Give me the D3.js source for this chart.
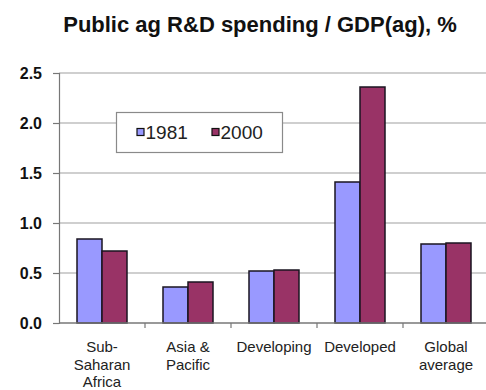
<!DOCTYPE html>
<html>
<head>
<meta charset="utf-8">
<script src="https://cdn.jsdelivr.net/npm/d3@7"></script>
<style>
  html, body { margin: 0; padding: 0; background: #fff; }
  svg { display: block; font-family: "Liberation Sans", Arial, sans-serif; }
</style>
</head>
<body>
<svg id="chart" width="486" height="390"></svg>
<script>
// Regions shown along the x axis (line breaks marked with \n)
const categories = ["Sub-\nSaharan\nAfrica", "Asia &\nPacific", "Developing", "Developed", "Global\naverage"];
// Series years
const years = ["1981", "2000"];
// Public agricultural R&D spending as % of agricultural GDP
const values1981 = [0.84, 0.36, 0.52, 1.41, 0.79];
const values2000 = [0.72, 0.41, 0.53, 2.36, 0.80];
// Y axis ticks
const yTicks = [0.0, 0.5, 1.0, 1.5, 2.0, 2.5];

const colors = { "1981": "#9999ff", "2000": "#993366" };

const svg = d3.select("#chart");
const margin = { left: 59, right: -3, top: 73, bottom: 67 };
const W = 486, H = 390;
const plotL = margin.left, plotR = W - margin.right;
const plotT = margin.top, plotB = H - margin.bottom;

const x0 = d3.scaleBand().domain(categories).range([plotL, plotR]).padding(0);
const x1 = d3.scaleBand().domain(years).range([0, x0.bandwidth()]).paddingInner(0).paddingOuter(0.72);
const y = d3.scaleLinear().domain([0, 2.5]).range([plotB, plotT]);

// Title
svg.append("text")
  .attr("x", 260).attr("y", 32)
  .attr("text-anchor", "middle")
  .attr("font-size", 22).attr("font-weight", "bold").attr("fill", "#111")
  .text("Public ag R&D spending / GDP(ag), %");

// Gridlines
svg.append("g").selectAll("line")
  .data(yTicks.filter(d => d > 0))
  .join("line")
  .attr("x1", plotL).attr("x2", plotR)
  .attr("y1", d => y(d)).attr("y2", d => y(d))
  .attr("stroke", "#a0a0a0").attr("stroke-width", 1.2);

// Y axis
const yAxis = svg.append("g")
  .attr("transform", `translate(${plotL},0)`)
  .call(d3.axisLeft(y).tickValues(yTicks).tickFormat(d3.format(".1f")).tickSize(6).tickPadding(11));
yAxis.select(".domain").attr("stroke", "#777").attr("stroke-width", 1.2);
yAxis.selectAll(".tick line").attr("stroke", "#777").attr("stroke-width", 1.2);
yAxis.selectAll(".tick text")
  .attr("font-size", 16).attr("font-weight", "bold").attr("fill", "#111")
  .attr("font-family", "Liberation Sans, Arial, sans-serif");

// Bars
const rows = categories.map((c, i) => ({ cat: c, vals: [
  { year: "1981", v: values1981[i] },
  { year: "2000", v: values2000[i] }
]}));

svg.append("g").selectAll("g")
  .data(rows)
  .join("g")
  .attr("transform", d => `translate(${x0(d.cat)},0)`)
  .selectAll("rect")
  .data(d => d.vals)
  .join("rect")
  .attr("x", d => x1(d.year))
  .attr("width", x1.bandwidth())
  .attr("y", d => y(d.v))
  .attr("height", d => y(0) - y(d.v))
  .attr("fill", d => colors[d.year])
  .attr("stroke", "#1a1420").attr("stroke-width", 1.5);

// X axis baseline and category boundary ticks
svg.append("line")
  .attr("x1", plotL).attr("x2", plotR)
  .attr("y1", y(0)).attr("y2", y(0))
  .attr("stroke", "#777").attr("stroke-width", 1.3);
svg.append("g").selectAll("line")
  .data(categories.slice(1))
  .join("line")
  .attr("x1", d => x0(d)).attr("x2", d => x0(d))
  .attr("y1", y(0)).attr("y2", y(0) + 5)
  .attr("stroke", "#777").attr("stroke-width", 1.2);

// Category labels
const labels = svg.append("g").selectAll("text")
  .data(categories)
  .join("text")
  .attr("x", d => x0(d) + x0.bandwidth() / 2)
  .attr("y", 352)
  .attr("text-anchor", "middle")
  .attr("font-size", 15).attr("fill", "#222");
labels.selectAll("tspan")
  .data(d => d.split("\n").map(s => ({ s, x: x0(d) + x0.bandwidth() / 2 })))
  .join("tspan")
  .attr("x", d => d.x)
  .attr("dy", (d, i) => i === 0 ? 0 : 17.5)
  .text(d => d.s);

// Legend
const legend = svg.append("g");
legend.append("rect")
  .attr("x", 116.5).attr("y", 112.5).attr("width", 166).attr("height", 40)
  .attr("fill", "#fff").attr("stroke", "#8a8a8a").attr("stroke-width", 1.2);
const legX = { "1981": 137, "2000": 212 };
years.forEach(yr => {
  legend.append("rect")
    .attr("x", legX[yr]).attr("y", 128.5).attr("width", 7).attr("height", 7)
    .attr("fill", colors[yr]).attr("stroke", "#111").attr("stroke-width", 1.2);
  legend.append("text")
    .attr("x", legX[yr] + 8.5).attr("y", 139)
    .attr("font-size", 19).attr("fill", "#222")
    .text(yr);
});
</script>
</body>
</html>
